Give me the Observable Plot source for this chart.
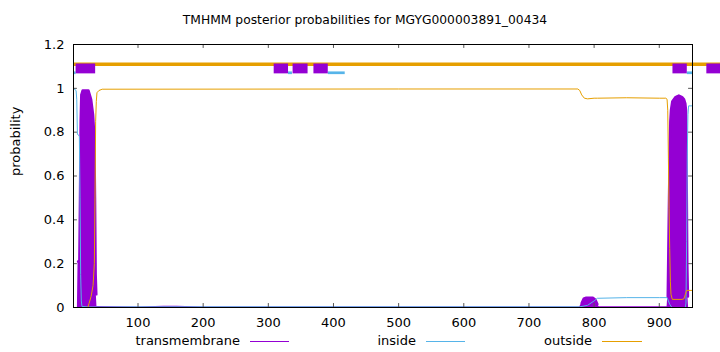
<!DOCTYPE html>
<html>
<head>
<meta charset="utf-8">
<script src="https://cdn.jsdelivr.net/npm/d3@7"></script>
<script src="https://cdn.jsdelivr.net/npm/@observablehq/plot@0.6"></script>
<style>
  html, body { margin: 0; padding: 0; background: white; }
  #wrap { position: relative; width: 720px; height: 352px; overflow: hidden; font-family: "DejaVu Sans", sans-serif; font-size: 13px; color: black; }
  #title { position: absolute; left: 0; top: 12px; width: 730px; text-align: center; line-height: 16px; font-size: 12.3px; }
  #chart { position: absolute; left: 0; top: 32px; }
  .lg { position: absolute; top: 333px; line-height: 16px; white-space: nowrap; }
  .lgline { position: absolute; top: 341px; height: 1px; }
</style>
</head>
<body>
<div id="wrap">
  <div id="title">TMHMM posterior probabilities for MGYG000003891_00434</div>
  <div id="chart"></div>
</div>
<script>
// ---- data (residue position, posterior probability) ----
const seqLength = 951;
const tmPos  = [1, 7, 8, 10, 11, 12, 13, 15, 24, 28, 31, 33, 34, 35, 36, 37, 100, 140, 160, 200, 778, 781, 784, 788, 798, 802, 805, 808, 912, 913, 914, 915, 916, 917, 918, 920, 925, 930, 935, 938, 940, 941, 942, 943, 944, 945, 951];
const tmVal  = [0, 0, 0.21, 0.21, 0.5, 0.85, 0.97, 0.99, 0.99, 0.95, 0.88, 0.78, 0.5, 0.15, 0.06, 0.005, 0.002, 0.006, 0.006, 0.002, 0.002, 0.02, 0.04, 0.045, 0.045, 0.035, 0.015, 0.003, 0.003, 0.05, 0.27, 0.5, 0.7, 0.85, 0.9, 0.94, 0.96, 0.967, 0.96, 0.95, 0.93, 0.9, 0.6, 0.2, 0.05, 0, 0];
const inPos  = [1, 5, 6, 7, 8, 10, 11, 12, 13, 14, 24, 100, 778, 790, 800, 805, 850, 900, 912, 914, 916, 918, 920, 940, 941, 942, 943, 944, 945, 951];
const inVal  = [1.0, 0.99, 0.95, 0.79, 0.79, 0.78, 0.5, 0.15, 0.03, 0.005, 0.002, 0.003, 0.003, 0.01, 0.03, 0.042, 0.045, 0.045, 0.045, 0.03, 0.015, 0.005, 0, 0, 0.02, 0.3, 0.7, 0.88, 0.92, 0.92];
const outPos = [1, 23, 25, 28, 31, 33, 34, 35, 36, 37, 40, 45, 500, 775, 778, 781, 785, 790, 800, 805, 850, 900, 910, 912, 913, 914, 915, 916, 917, 918, 920, 935, 938, 940, 942, 951];
const outVal = [0, 0, 0.02, 0.05, 0.1, 0.2, 0.5, 0.85, 0.94, 0.98, 0.99, 0.996, 0.997, 0.997, 0.99, 0.97, 0.955, 0.952, 0.955, 0.955, 0.957, 0.955, 0.955, 0.95, 0.9, 0.68, 0.45, 0.27, 0.12, 0.06, 0.037, 0.037, 0.04, 0.06, 0.078, 0.078];

// predicted topology bar (start, end residues)
const topOutside = [[1, 1010]];
const topInside  = [[1, 5], [331, 337], [392, 418], [943, 951]];
const topTM      = [[5, 35], [309, 331], [338, 361], [370, 392], [921, 943], [973, 1010]];

const yTicks = [0, 0.2, 0.4, 0.6, 0.8, 1, 1.2];
const xTicks = [100, 200, 300, 400, 500, 600, 700, 800, 900];
const seriesNames = ["transmembrane", "inside", "outside"];
const colors = {transmembrane: "#9400D3", inside: "#56B4E9", outside: "#E69F00"};

// ---- build tables ----
const tm = tmPos.map((r, i) => ({r, v: tmVal[i]}));
const ins = inPos.map((r, i) => ({r, v: inVal[i]}));
const outs = outPos.map((r, i) => ({r, v: outVal[i]}));
const segs = (arr) => arr.map(([a, b]) => ({a, b}));

const chart = Plot.plot({
  width: 720,
  height: 296,
  marginLeft: 73,
  marginRight: 28,
  marginTop: 12,
  marginBottom: 21,
  x: {domain: [1, seqLength]},
  y: {domain: [0, 1.2]},
  style: {fontFamily: "DejaVu Sans, sans-serif", fontSize: "13px", color: "black", background: "white", overflow: "visible"},
  marks: [
    Plot.areaY(tm, {x: "r", y: "v", fill: colors.transmembrane}),
    Plot.lineY(tm, {x: "r", y: d => d.v > 0.01 ? d.v : NaN, stroke: colors.transmembrane, strokeWidth: 2.5}),
    Plot.lineY(ins, {x: "r", y: "v", stroke: colors.inside, strokeWidth: 1}),
    Plot.lineY(outs, {x: "r", y: "v", stroke: colors.outside, strokeWidth: 1}),
    // topology bar
    Plot.ruleY(segs(topOutside), {x1: "a", x2: "b", y: 1.11, stroke: colors.outside, strokeWidth: 3.7}),
    Plot.ruleY(segs(topInside), {x1: "a", x2: "b", y: 1.071, stroke: colors.inside, strokeWidth: 2.7}),
    Plot.rect(segs(topTM), {x1: "a", x2: "b", y1: 1.066, y2: 1.111, fill: colors.transmembrane}),
    // inward ticks
    Plot.ruleY(yTicks, {y: d => d, x1: 1, x2: 7, stroke: "#555"}),
    Plot.ruleY(yTicks, {y: d => d, x1: seqLength - 6, x2: seqLength, stroke: "#555"}),
    Plot.ruleX(xTicks, {x: d => d, y1: 0, y2: 0.018, stroke: "#555"}),
    Plot.ruleX(xTicks, {x: d => d, y1: 1.182, y2: 1.2, stroke: "#555"}),
    Plot.frame({stroke: "black"}),
    Plot.axisY({ticks: yTicks, tickSize: 0, tickPadding: 9, label: null, tickFormat: d => String(+d.toFixed(1))}),
    Plot.axisX({ticks: xTicks, tickSize: 0, tickPadding: 10, label: null, tickFormat: d => String(d)}),
    Plot.text(["probability"], {frameAnchor: "left", dx: -58, rotate: -90, text: d => d, fontSize: 13})
  ]
});
document.getElementById("chart").appendChild(chart);

// ---- legend ----
const wrap = document.getElementById("wrap");
const legendPos = [
  {textRight: 240, x1: 250, x2: 289},
  {textRight: 416, x1: 426, x2: 465},
  {textRight: 592, x1: 602, x2: 642}
];
seriesNames.forEach((name, i) => {
  const p = legendPos[i];
  const t = document.createElement("div");
  t.className = "lg";
  t.style.right = (720 - p.textRight) + "px";
  t.textContent = name;
  wrap.appendChild(t);
  const l = document.createElement("div");
  l.className = "lgline";
  l.style.left = p.x1 + "px";
  l.style.width = (p.x2 - p.x1) + "px";
  l.style.background = colors[name];
  wrap.appendChild(l);
});
</script>
</body>
</html>
